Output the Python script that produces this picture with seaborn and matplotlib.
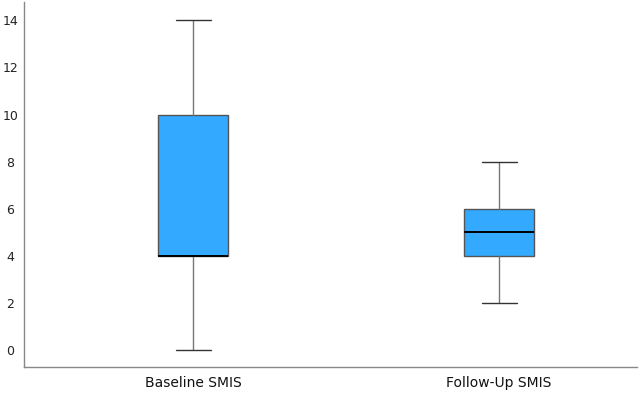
import pandas as pd
import numpy as np
import matplotlib
matplotlib.use("Agg")
import matplotlib.pyplot as plt
import seaborn as sns

# scores chosen so the boxes give the quartiles
baseline_smis = [0, 4, 4, 4, 10, 10, 14]
followup_smis = [2, 4, 4, 5, 6, 6, 8]
group_labels = ['Baseline SMIS', 'Follow-Up SMIS']
y_ticks = [0, 2, 4, 6, 8, 10, 12, 14]

df = pd.DataFrame({
    'group': [group_labels[0]] * len(baseline_smis) + [group_labels[1]] * len(followup_smis),
    'score': baseline_smis + followup_smis,
})

sns.set_style('white')
plt.rcParams['font.family'] = ['DejaVu Sans']

fig, ax = plt.subplots(figsize=(6.42, 3.94), dpi=100)
sns.boxplot(data=df, x='group', y='score', ax=ax, width=0.23, color='#33aaff',
            saturation=1, linewidth=1,
            boxprops=dict(edgecolor='#555555'),
            whiskerprops=dict(color='#777777'),
            capprops=dict(color='#333333'),
            medianprops=dict(color='black', linewidth=1.4))

ax.set_xlim(-0.553, 1.45)
ax.set_ylim(-0.72, 14.78)
ax.set_yticks(y_ticks)
ax.set_xlabel('')
ax.set_ylabel('')
ax.tick_params(axis='y', labelsize=9, length=0, pad=10, labelcolor='#222222')
ax.tick_params(axis='x', labelsize=10, length=0, pad=6, labelcolor='#111111')
for lab in ax.get_yticklabels():
    lab.set_horizontalalignment('center')
for s in ['top', 'right']:
    ax.spines[s].set_visible(False)
for s in ['left', 'bottom']:
    ax.spines[s].set_color('#888888')
    ax.spines[s].set_linewidth(1)

fig.subplots_adjust(left=0.0374, right=0.992, bottom=0.068, top=0.995)
fig.savefig('out.png', dpi=100)
